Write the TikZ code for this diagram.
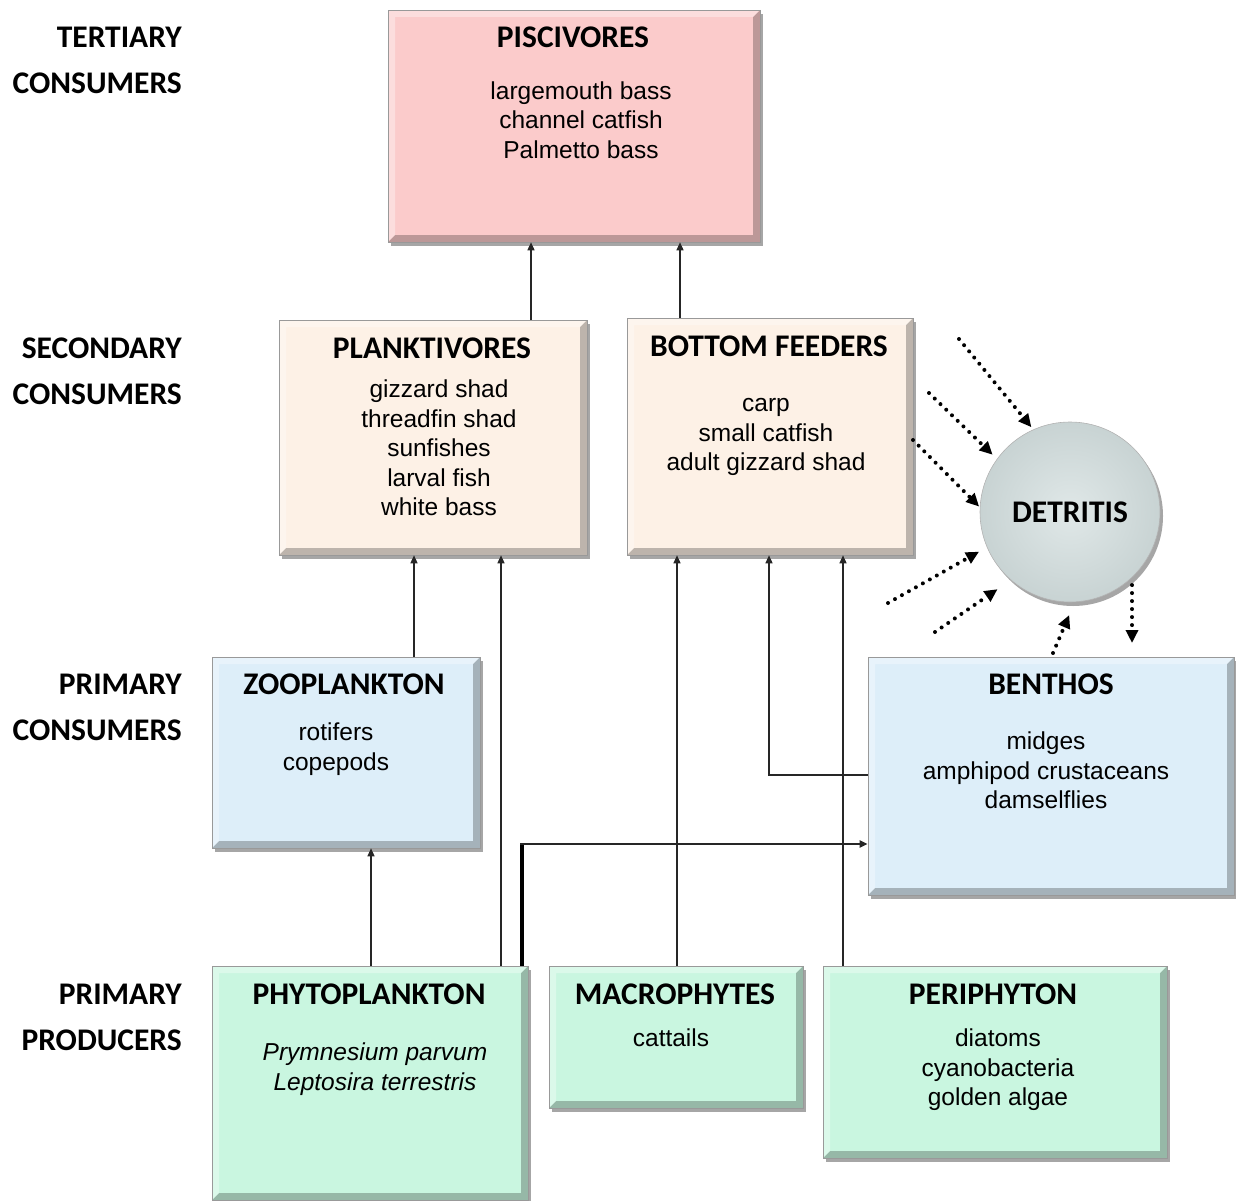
\documentclass[tikz,border=0pt]{standalone}
\usepackage{fontspec}
\setmainfont{Liberation Sans}
\newfontfamily\titlefont{Carlito}
\usetikzlibrary{arrows.meta,shadows}
\definecolor{pinkc}{HTML}{FBCBCB}
\definecolor{peachc}{HTML}{FDF1E6}
\definecolor{bluec}{HTML}{DDEEF9}
\definecolor{mintc}{HTML}{C9F6E0}
\definecolor{detin}{HTML}{E0E8E8}
\definecolor{detout}{HTML}{C8D3D3}
\tikzset{
  x=1pt, y=-1pt,
  bevel/.style={path picture={
    \fill[black,opacity=0.25] (path picture bounding box.north east) -- (path picture bounding box.south east) -- (path picture bounding box.south west) -- ([shift={(7pt,7pt)}]path picture bounding box.south west) -- ([shift={(-7pt,7pt)}]path picture bounding box.south east) -- ([shift={(-7pt,-7pt)}]path picture bounding box.north east) -- cycle;
    \fill[white,opacity=0.35] (path picture bounding box.north east) -- (path picture bounding box.north west) -- (path picture bounding box.south west) -- ([shift={(7pt,7pt)}]path picture bounding box.south west) -- ([shift={(7pt,-7pt)}]path picture bounding box.north west) -- ([shift={(-7pt,-7pt)}]path picture bounding box.north east) -- cycle;
  }},
  box/.style={rectangle, inner sep=0pt, fill=#1, draw=black!40, line width=0.6pt,
    drop shadow={shadow xshift=3pt, shadow yshift=-4pt, opacity=0.35, fill=black}, bevel},
  ttl/.style={font=\titlefont\bfseries\fontsize{31.5}{36}\selectfont, anchor=base, inner sep=0pt},
  lvl/.style={font=\titlefont\bfseries\fontsize{31.5}{36}\selectfont, anchor=base east, inner sep=0pt},
  bodyt/.style={font=\fontsize{24.5}{29.5}\selectfont, anchor=base, inner sep=0pt},
  arr/.style={draw=black!85, line width=1.4pt, -{Triangle[length=8pt,width=7pt]}},
  dotarr/.style={draw=black, line width=4pt, dash pattern=on 0pt off 8pt, line cap=round, -{Triangle[length=13pt,width=12pt]}},
}
\newcommand{\ml}[1]{\begin{tabular}[t]{@{}c@{}}#1\end{tabular}}
\begin{document}
\begin{tikzpicture}
\useasboundingbox (0,0) rectangle (1236,1201);

% level labels
\node[lvl] (l1a) at (182,48) {TERTIARY};
\node[lvl] (l1b) at (182,94) {CONSUMERS};
\node[lvl] (l2a) at (182,358) {SECONDARY};
\node[lvl] (l2b) at (182,404) {CONSUMERS};
\node[lvl] (l3a) at (182,694) {PRIMARY};
\node[lvl] (l3b) at (182,740) {CONSUMERS};
\node[lvl] (l4a) at (182,1004) {PRIMARY};
\node[lvl] (l4b) at (182,1050) {PRODUCERS};

% boxes
\node[box=pinkc, minimum width=372, minimum height=232] (pisc) at (574,126) {};
\node[box=peachc, minimum width=308, minimum height=235] (plank) at (433,437.5) {};
\node[box=peachc, minimum width=286, minimum height=237] (bot) at (770,436.5) {};
\node[box=bluec, minimum width=268, minimum height=191] (zoo) at (346,752.5) {};
\node[box=bluec, minimum width=366, minimum height=238] (benth) at (1051,776) {};
\node[box=mintc, minimum width=316, minimum height=234] (phyto) at (370,1083) {};
\node[box=mintc, minimum width=254, minimum height=142] (macro) at (676,1037) {};
\node[box=mintc, minimum width=344, minimum height=192] (peri) at (995,1062) {};
\node[circle, minimum size=180, inner sep=0pt, inner color=detin, outer color=detout, draw=black!30, line width=0.6pt,
  drop shadow={shadow xshift=3pt, shadow yshift=-4pt, opacity=0.35, fill=black}] (det) at (1070,512) {};

% texts
\node[ttl] (pisc-t) at (573,48) {PISCIVORES};
\node[bodyt] (pisc-b) at (581,99.5) {\ml{largemouth bass\\channel catfish\\Palmetto bass}};
\node[ttl] (plank-t) at (432,358) {PLANKTIVORES};
\node[bodyt] (plank-b) at (439,397.5) {\ml{gizzard shad\\threadfin shad\\sunfishes\\larval fish\\white bass}};
\node[ttl] (bot-t) at (769,356) {BOTTOM FEEDERS};
\node[bodyt] (bot-b) at (766,411.5) {\ml{carp\\small catfish\\adult gizzard shad}};
\node[ttl] (det-t) at (1070,522) {DETRITIS};
\node[ttl] (zoo-t) at (344,694) {ZOOPLANKTON};
\node[bodyt] (zoo-b) at (336,740.5) {\ml{rotifers\\copepods}};
\node[ttl] (benth-t) at (1051,694) {BENTHOS};
\node[bodyt] (benth-b) at (1046,749.5) {\ml{midges\\amphipod crustaceans\\damselflies}};
\node[ttl] (phyto-t) at (369,1004) {PHYTOPLANKTON};
\node[bodyt] (phyto-b) at (375,1060.5) {\itshape\ml{Prymnesium parvum\\Leptosira terrestris}};
\node[ttl] (macro-t) at (675,1004) {MACROPHYTES};
\node[bodyt] (macro-b) at (671,1046.5) {cattails};
\node[ttl] (peri-t) at (993,1004) {PERIPHYTON};
\node[bodyt] (peri-b) at (998,1046.5) {\ml{diatoms\\cyanobacteria\\golden algae}};

% connector columns
\coordinate (c531) at (531,0);
\coordinate (c680) at (680,0);
\coordinate (c414) at (414,0);
\coordinate (c501) at (501,0);
\coordinate (c371) at (371,0);
\coordinate (c677) at (677,0);
\coordinate (c843) at (843,0);
\coordinate (bj) at (769,775);
\coordinate (pj) at (522,844);

\draw[arr] (plank.north -| c531) -- (pisc.south -| c531);
\draw[arr] (bot.north -| c680) -- (pisc.south -| c680);
\draw[arr] (zoo.north -| c414) -- (plank.south -| c414);
\draw[arr] (phyto.north -| c501) -- (plank.south -| c501);
\draw[arr] (phyto.north -| c371) -- (zoo.south -| c371);
\draw[arr] (macro.north -| c677) -- (bot.south -| c677);
\draw[arr] (peri.north -| c843) -- (bot.south -| c843);
\draw[arr] (benth.west |- bj) -- (bj) -- (bot.south -| bj);
\draw[black, line width=3.5pt] (phyto.north -| pj) -- ([yshift=-1pt]pj);
\draw[arr, line width=2pt] ([xshift=-1.75pt]pj) -- (benth.west |- pj);

% detritus flows
\coordinate (d1) at (959,339);
\coordinate (d2) at (929,393);
\coordinate (d3) at (913,440);
\coordinate (d4) at (888,603);
\coordinate (d5) at (935,632);
\coordinate (d6) at (1053,653);
\coordinate (o7) at (1132,643);
\draw[dotarr, shorten >=3pt] (d1) -- (det.114);
\draw[dotarr, shorten >=6pt] (d2) -- (det.144);
\draw[dotarr, shorten >=1pt] (d3) -- (det.177);
\draw[dotarr, shorten >=9pt] (d4) -- (det.203);
\draw[dotarr, shorten >=16pt] (d5) -- (det.229);
\draw[dotarr, shorten >=14pt] (d6) -- (det.273);
\draw[dotarr] (det.306 -| o7) -- (o7);
\end{tikzpicture}
\end{document}
